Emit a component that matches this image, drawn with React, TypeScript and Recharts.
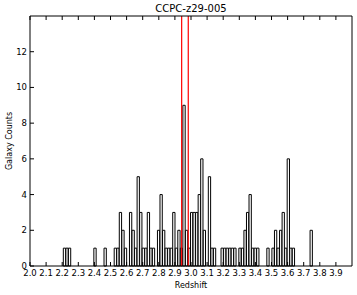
import React from 'react';
import { ComposedChart, Bar, XAxis, YAxis, ReferenceLine } from 'recharts';

// histogram bins (redshift)
const BIN_START = 2.207;
const BIN_WIDTH = 0.0158;
const counts = [
  1, 1, 1, 0, 0, 0, 0, 0, 0, 0,
  0, 0, 1, 0, 0, 0, 1, 0, 0, 0,
  1, 1, 3, 2, 1, 0, 3, 2, 1, 5,
  3, 1, 1, 3, 1, 1, 0, 2, 4, 2,
  1, 1, 1, 3, 1, 2, 1, 9, 2, 1,
  3, 3, 3, 4, 6, 2, 0, 5, 1, 1,
  0, 0, 1, 1, 1, 1, 1, 1, 0, 1,
  1, 2, 3, 4, 1, 1, 1, 0, 0, 0,
  1, 0, 1, 2, 1, 2, 3, 1, 6, 1,
  1, 0, 0, 0, 0, 0, 0, 2, 0, 0,
];
const xTicks = [2.0, 2.1, 2.2, 2.3, 2.4, 2.5, 2.6, 2.7, 2.8, 2.9, 3.0, 3.1, 3.2, 3.3, 3.4, 3.5, 3.6, 3.7, 3.8, 3.9];
const yTicks = [0, 2, 4, 6, 8, 10, 12];
const markerLines = [2.942, 2.983];

const data = counts.map((c, i) => ({ z: BIN_START + (i + 0.5) * BIN_WIDTH, count: c }));

const W = 357;
const H = 295;
const PLOT_W = W - 30 - 5;
const font = '"DejaVu Sans", sans-serif';
const tickStyle = { fontSize: 8.5, fill: '#000', fontFamily: font };

export default function App() {
  const barPx = (BIN_WIDTH / 2.0) * PLOT_W;
  return (
    <div style={{ position: 'absolute', left: 0, top: 0, width: W, height: H, background: '#fff' }}>
      <div
        style={{
          position: 'absolute', left: 30, top: 3, width: PLOT_W, textAlign: 'center',
          fontFamily: font, fontSize: 10, lineHeight: '12px', color: '#000',
        }}
      >
        CCPC-z29-005
      </div>
      <ComposedChart width={W} height={H} data={data} margin={{ top: 15, right: 4, bottom: 0, left: 0 }}>
        <XAxis
          xAxisId="b"
          dataKey="z"
          type="number"
          domain={[2.0, 4.0]}
          ticks={xTicks}
          interval={0}
          allowDataOverflow
          height={29}
          tickSize={-4}
          tickMargin={8}
          tick={tickStyle}
          tickFormatter={(v: number) => v.toFixed(1)}
          stroke="#000"
          label={{ value: 'Redshift', position: 'insideBottom', offset: 7, style: { fontSize: 8, fill: '#000', fontFamily: font } }}
        />
        <XAxis
          xAxisId="t"
          orientation="top"
          dataKey="z"
          type="number"
          domain={[2.0, 4.0]}
          ticks={xTicks}
          interval={0}
          height={1}
          tickSize={-4}
          tickFormatter={() => ''}
          stroke="#000"
        />
        <YAxis
          yAxisId="l"
          type="number"
          domain={[0, 14]}
          ticks={yTicks}
          interval={0}
          width={30}
          tickSize={-4}
          tickMargin={7}
          tick={tickStyle}
          stroke="#000"
          label={{ value: 'Galaxy Counts', angle: -90, position: 'insideLeft', offset: 9, style: { fontSize: 8, fill: '#000', fontFamily: font, textAnchor: 'middle' } }}
        />
        <YAxis
          yAxisId="r"
          orientation="right"
          type="number"
          domain={[0, 14]}
          ticks={yTicks}
          interval={0}
          width={1}
          tickSize={-4}
          tickFormatter={() => ''}
          stroke="#000"
        />
        <Bar
          xAxisId="b"
          yAxisId="l"
          dataKey="count"
          barSize={barPx}
          fill="#fff"
          stroke="#000"
          strokeWidth={1}
          isAnimationActive={false}
        />
        {markerLines.map((z) => (
          <ReferenceLine key={z} xAxisId="b" yAxisId="l" x={z} stroke="#ff0000" strokeWidth={1.2} />
        ))}
      </ComposedChart>
    </div>
  );
}
